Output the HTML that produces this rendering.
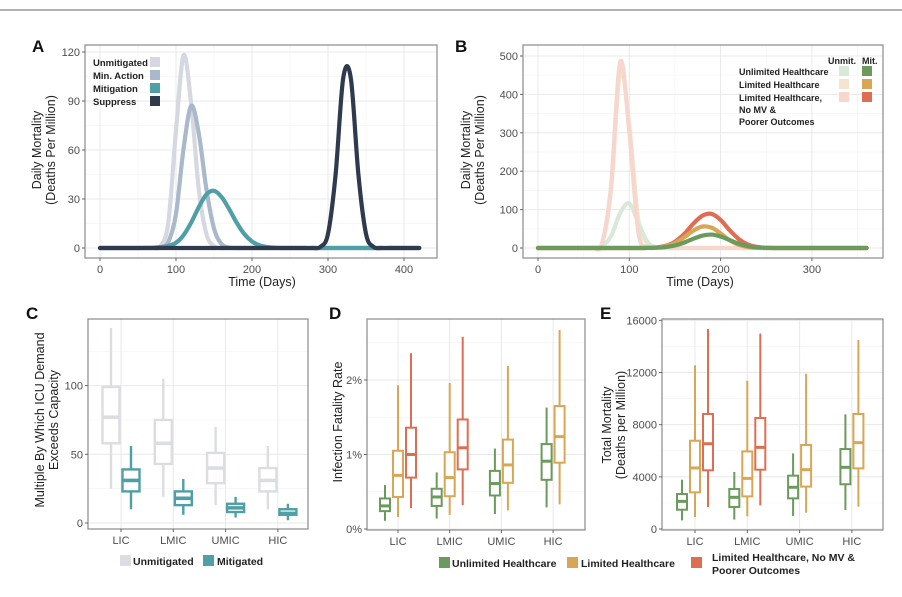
<!DOCTYPE html>
<html><head><meta charset="utf-8"><style>
body{margin:0;background:#fff;}
svg{display:block;font-family:"Liberation Sans",sans-serif;}
.tk{font-size:11px;fill:#4d4d4d;}
.ttl{font-size:12.5px;fill:#222;}
.lg{font-size:10px;font-weight:bold;fill:#222;}
.lga{font-size:9.5px;font-weight:bold;fill:#222;}
.lgb{font-size:9px;font-weight:bold;fill:#222;}
.pl{font-family:"Liberation Sans Narrow","Liberation Sans",sans-serif;font-weight:bold;font-size:17px;fill:#111;}
</style></head><body>
<svg id="fig" width="902" height="597" viewBox="0 0 902 597">
<line x1="0" y1="10" x2="902" y2="10" stroke="#9a9a9a" stroke-width="1.5"/>
<text class="pl" x="32" y="52">A</text>
<text class="pl" x="455" y="52">B</text>
<text class="pl" x="26" y="319">C</text>
<text class="pl" x="329" y="319">D</text>
<text class="pl" x="600" y="319">E</text>
<g id="gA"></g>
<g id="gB"></g>
<g id="gC"></g>
<g id="gD"></g>
<g id="gE"></g>
<text class="ttl" text-anchor="middle" transform="translate(41,150) rotate(-90)"><tspan x="0" dy="0">Daily Mortality</tspan><tspan x="0" dy="14">(Deaths Per Million)</tspan></text>
<text class="ttl" x="262" y="286" text-anchor="middle">Time (Days)</text>
<text class="ttl" text-anchor="middle" transform="translate(470,150) rotate(-90)"><tspan x="0" dy="0">Daily Mortality</tspan><tspan x="0" dy="14">(Deaths Per Million)</tspan></text>
<text class="ttl" x="700" y="286" text-anchor="middle">Time (Days)</text>
<text class="ttl" text-anchor="middle" transform="translate(44,420) rotate(-90)"><tspan x="0" dy="0">Multiple By Which ICU Demand</tspan><tspan x="0" dy="14">Exceeds Capacity</tspan></text>
<text class="ttl" text-anchor="middle" transform="translate(342,422) rotate(-90)">Infection Fatality Rate</text>
<text class="ttl" text-anchor="middle" transform="translate(611,425) rotate(-90)"><tspan x="0" dy="0">Total Mortality</tspan><tspan x="0" dy="14">(Deaths per Million)</tspan></text>
<g>
<text class="lga" x="93" y="66">Unmitigated</text><rect x="150" y="57" width="10" height="10" fill="#d5d8e0"/>
<text class="lga" x="93" y="79">Min. Action</text><rect x="150" y="70" width="10" height="10" fill="#a9b8cb"/>
<text class="lga" x="93" y="92">Mitigation</text><rect x="150" y="83" width="10" height="10" fill="#4f9fa6"/>
<text class="lga" x="93" y="105">Suppress</text><rect x="150" y="96" width="10" height="10" fill="#2f3a4f"/>
</g>
<g>
<text class="lgb" x="828" y="64">Unmit.</text><text class="lgb" x="862" y="64">Mit.</text>
<text class="lgb" x="739" y="75">Unlimited Healthcare</text><rect x="839" y="66" width="10" height="10" fill="#dae8d8"/><rect x="862" y="66" width="10" height="10" fill="#6a9b5c"/>
<text class="lgb" x="739" y="88">Limited Healthcare</text><rect x="839" y="79" width="10" height="10" fill="#f5e4cf"/><rect x="862" y="79" width="10" height="10" fill="#d9a655"/>
<text class="lgb" x="739" y="101">Limited Healthcare,</text><rect x="839" y="92" width="10" height="10" fill="#f6d6cd"/><rect x="862" y="92" width="10" height="10" fill="#de6e53"/>
<text class="lgb" x="739" y="113">No MV &amp;</text>
<text class="lgb" x="739" y="125">Poorer Outcomes</text>
</g>
<g>
<rect x="120" y="555" width="11" height="11" fill="#dcdde3"/><text class="lg" x="133" y="565" style="font-size:10.5px">Unmitigated</text>
<rect x="203" y="555" width="11" height="11" fill="#4f9fa6"/><text class="lg" x="217" y="565" style="font-size:10.5px">Mitigated</text>
</g>
<g>
<rect x="439" y="557" width="11" height="11" fill="#6a9b5c"/><text class="lg" x="452" y="567" style="font-size:10.5px">Unlimited Healthcare</text>
<rect x="567" y="557" width="11" height="11" fill="#d9a655"/><text class="lg" x="581" y="567" style="font-size:10.5px">Limited Healthcare</text>
<rect x="691" y="557" width="11" height="11" fill="#de6e53"/><text class="lg" x="712" y="561" style="font-size:10.5px">Limited Healthcare, No MV &amp;</text><text class="lg" x="712" y="574" style="font-size:10.5px">Poorer Outcomes</text>
</g>
</svg>
<script>
const daysA = [0,10,20,30,40,50,60,70,80,90,100,110,120,130,140,150,160,170,180,190,200,210,220,230,240,250,260,270,280,290,300,310,320,330,340,350,360,370,380,390,400,410,420];
const aUnmit =   [0,0,0,0,0,0,0,0.1,1.3,16,72,118,88,36,8.6,1.1,0,0,0,0,0,0,0,0,0,0,0,0,0,0,0,0,0,0,0,0,0,0,0,0,0,0,0];
const aMinAct =  [0,0,0,0,0,0,0,0,0.3,3.8,21,61,87,70,36,12,2.4,0.3,0,0,0,0,0,0,0,0,0,0,0,0,0,0,0,0,0,0,0,0,0,0,0,0,0];
const aMitig =   [0,0,0,0,0,0,0.1,0.2,0.6,1.3,3.2,7.9,15.6,25,32.8,35,31.2,23.8,15.4,8.5,4,1.6,0.6,0.2,0,0,0,0,0,0,0,0,0,0,0,0,0,0,0,0,0,0,0];
const aSupp =    [0,0,0,0,0,0,0,0,0,0,0,0,0,0,0,0,0,0,0,0,0,0,0,0,0,0,0,0,0,0.7,8.7,45,104,104,45,8.7,0.7,0,0,0,0,0,0];
const aYTicks = [0,30,60,90,120];
const aXTicks = [0,100,200,300,400];
const daysB = [0,10,20,30,40,50,60,70,80,90,100,110,120,130,140,150,160,170,180,190,200,210,220,230,240,250,260,270,280,290,300,310,320,330,340,350,360];
const bUnmitUnl = [0,0,0,0,0,0,0.3,4.6,31,91,116,65,16,1.7,0,0,0,0,0,0,0,0,0,0,0,0,0,0,0,0,0,0,0,0,0,0,0];
const bUnmitLim = [0,0,0,0,0,0,0.5,10,150,460,320,70,12,2,0,0,0,0,0,0,0,0,0,0,0,0,0,0,0,0,0,0,0,0,0,0,0];
const bUnmitNoMV= [0,0,0,0,0,0,0.5,11,162,485,303,40,3,0,0,0,0,0,0,0,0,0,0,0,0,0,0,0,0,0,0,0,0,0,0,0,0];
const bMitNoMV  = [0,0,0,0,0,0,0,0,0,0,0,0,0.3,1.5,5.7,16.3,36,63,84,89,73,46,23,9,2.7,0.7,0,0,0,0,0,0,0,0,0,0,0];
const bMitLim   = [0,0,0,0,0,0,0,0,0,0,0,0,0.3,1,4.5,13,27.5,45,56,53,38,20,8.4,2.6,0.6,0,0,0,0,0,0,0,0,0,0,0,0];
const bMitUnl   = [0,0,0,0,0,0,0,0,0,0,0,0,0.2,0.8,2.5,6.6,14,24,32,35,30,20.6,11,4.8,1.6,0.5,0,0,0,0,0,0,0,0,0,0,0];
const bYTicks = [0,100,200,300,400,500];
const bXTicks = [0,100,200,300];
const cCats = ["LIC","LMIC","UMIC","HIC"];
const cUnmit = [[25,58,77,99,142],[19,43,58,75,105],[13,29,40,51,70],[10,23,31,40,56]];
const cMitig = [[10,23,31,39,56],[6,13,18,23,32],[4,8,11,14,19],[2,6,7,10,14]];
const cYTicks = [0,50,100];
const dCats = ["LIC","LMIC","UMIC","HIC"];
const dUnl = [[0.11,0.24,0.31,0.41,0.59],[0.14,0.31,0.43,0.54,0.76],[0.2,0.45,0.61,0.78,1.08],[0.29,0.66,0.91,1.14,1.63]];
const dLim = [[0.16,0.43,0.72,1.05,1.93],[0.19,0.44,0.69,1.03,1.96],[0.25,0.62,0.86,1.2,2.19],[0.33,0.89,1.24,1.65,2.67]];
const dNoMV = [[0.28,0.69,1.0,1.36,2.36],[0.32,0.8,1.09,1.47,2.58],null,null];
const dYTicks = [0,1,2];
const eCats = ["LIC","LMIC","UMIC","HIC"];
const eUnl = [[660,1480,2120,2680,3780],[720,1690,2430,3070,4370],[1000,2350,3200,4090,5800],[1460,3430,4730,6130,8790]];
const eLim = [[920,2810,4680,6770,12550],[970,2500,3880,5950,11370],[1250,3250,4550,6440,11910],[1710,4650,6620,8820,14490]];
const eNoMV = [[1690,4500,6540,8820,15340],[1810,4550,6260,8510,14980],null,null];
const eYTicks = [0,4000,8000,12000,16000];

const NS = "http://www.w3.org/2000/svg";
function mk(parent, tag, attrs){ const e=document.createElementNS(NS,tag); for(const k in attrs) e.setAttribute(k,attrs[k]); parent.appendChild(e); return e; }
function frame(g, x0,y0,x1,y1){
  const r = mk(g,"rect",{x:x0,y:y0,width:x1-x0,height:y1-y0,fill:"#fff",stroke:"none"});
  
  
}
function border(g,x0,y0,x1,y1){
  const r = mk(g,"rect",{x:x0,y:y0,width:x1-x0,height:y1-y0,fill:"none",stroke:"#8a8a8a","stroke-width":1.2});
  
  
}
function hgrid(g,y,x0,x1,minor){
  const l = mk(g,"line",{x1:x0,x2:x1,y1:y,y2:y,stroke:minor?"#f4f4f4":"#e8e8e8","stroke-width":minor?0.7:1});
  
  
}
function vgrid(g,x,y0,y1,minor){
  const l = mk(g,"line",{x1:x,x2:x,y1:y0,y2:y1,stroke:minor?"#f4f4f4":"#e8e8e8","stroke-width":minor?0.7:1});
  
  
}
function ytick(g,x0,y,label){
  const l = mk(g,"line",{x1:x0-3,x2:x0,y1:y,y2:y,stroke:"#666","stroke-width":1});
  
  
  const t = mk(g,"text",{x:x0-5,y:y+4,"text-anchor":"end",class:"tk"}); t.textContent=label;
  
  
}
function xtick(g,x,y1,label){
  const l = mk(g,"line",{x1:x,x2:x,y1:y1,y2:y1+3,stroke:"#666","stroke-width":1});
  
  
  const t = mk(g,"text",{x:x,y:y1+15,"text-anchor":"middle",class:"tk"}); t.textContent=label;
  
  
}
function smoothPath(pts){
  let d = "M"+pts[0][0].toFixed(2)+","+pts[0][1].toFixed(2);
  for(let i=0;i<pts.length-1;i++){
    const p0=pts[Math.max(0,i-1)],p1=pts[i],p2=pts[i+1],p3=pts[Math.min(pts.length-1,i+2)];
    const c1=[p1[0]+(p2[0]-p0[0])/6,p1[1]+(p2[1]-p0[1])/6];
    const c2=[p2[0]-(p3[0]-p1[0])/6,p2[1]-(p3[1]-p1[1])/6];
    d+=" C"+c1[0].toFixed(2)+","+c1[1].toFixed(2)+" "+c2[0].toFixed(2)+","+c2[1].toFixed(2)+" "+p2[0].toFixed(2)+","+p2[1].toFixed(2);
  }
  return d;
}
function line(g, days, vals, xs, ys, color, name, baseY){
  const pts = days.map((d,i)=>[xs(d), Math.min(ys(vals[i]), baseY)]);
  const p = mk(g,"path",{d:smoothPath(pts),fill:"none",stroke:color,"stroke-width":4.2,"stroke-linecap":"round","stroke-linejoin":"round"});
  
  
}
function box(g, cx, w, s, ys, color, name, lw){
  const [mn,q1,md,q3,mx]=s.map(ys);
  const wl = mk(g,"line",{x1:cx,x2:cx,y1:mx,y2:q3,stroke:color,"stroke-width":lw});
  
  
  const wl2 = mk(g,"line",{x1:cx,x2:cx,y1:q1,y2:mn,stroke:color,"stroke-width":lw});
  
  
  const r = mk(g,"rect",{x:cx-w/2,y:q3,width:w,height:q1-q3,fill:"#fff",stroke:color,"stroke-width":lw});
  
  
  const m = mk(g,"line",{x1:cx-w/2,x2:cx+w/2,y1:md,y2:md,stroke:color,"stroke-width":lw*1.5});
  
  
}
(function(){
  const g=document.getElementById("gA");
  const x0=85,x1=437,y0=45,y1=258;
  const xs=d=>100+d*0.76, ys=v=>248-v*196/120;
  frame(g,x0,y0,x1,y1);
  for(let v=15;v<124;v+=30) hgrid(g,ys(v),x0,x1,true);
  for(let d=50;d<430;d+=100) vgrid(g,xs(d),y0,y1,true);
  aYTicks.forEach(v=>hgrid(g,ys(v),x0,x1,false));
  aXTicks.forEach(d=>vgrid(g,xs(d),y0,y1,false));
  line(g,daysA,aUnmit,xs,ys,"#d5d8e0","unmitigated-line",248);
  line(g,daysA,aMinAct,xs,ys,"#a9b8cb","min-action-line",248);
  line(g,daysA,aMitig,xs,ys,"#4f9fa6","mitigation-line",248);
  line(g,daysA,aSupp,xs,ys,"#2f3a4f","suppress-line",248);
  border(g,x0,y0,x1,y1);
  aYTicks.forEach(v=>ytick(g,x0,ys(v),String(v)));
  aXTicks.forEach(d=>xtick(g,xs(d),y1,String(d)));
})();
(function(){
  const g=document.getElementById("gB");
  const x0=523,x1=883,y0=45,y1=258;
  const xs=d=>538+d*0.913, ys=v=>248-v*0.384;
  frame(g,x0,y0,x1,y1);
  for(let v=50;v<520;v+=100) hgrid(g,ys(v),x0,x1,true);
  for(let d=50;d<370;d+=100) vgrid(g,xs(d),y0,y1,true);
  bYTicks.forEach(v=>hgrid(g,ys(v),x0,x1,false));
  bXTicks.forEach(d=>vgrid(g,xs(d),y0,y1,false));
  line(g,daysB,bUnmitLim,xs,ys,"#f5e4cf","unmit-limited-line",248);
  line(g,daysB,bUnmitUnl,xs,ys,"#dae8d8","unmit-unlimited-line",248);
  line(g,daysB,bUnmitNoMV,xs,ys,"#f6d6cd","unmit-nomv-line",248);
  line(g,daysB,bMitNoMV,xs,ys,"#de6e53","mit-nomv-line",248);
  line(g,daysB,bMitLim,xs,ys,"#d9a655","mit-limited-line",248);
  line(g,daysB,bMitUnl,xs,ys,"#6a9b5c","mit-unlimited-line",248);
  border(g,x0,y0,x1,y1);
  bYTicks.forEach(v=>ytick(g,x0,ys(v),String(v)));
  bXTicks.forEach(d=>xtick(g,xs(d),y1,String(d)));
})();
(function(){
  const g=document.getElementById("gC");
  const x0=88,x1=308,y0=319,y1=529;
  const xs=i=>121+i*52.3, ys=v=>523-v*1.374;
  frame(g,x0,y0,x1,y1);
  [25,75,125].forEach(v=>hgrid(g,ys(v),x0,x1,true));
  cYTicks.forEach(v=>hgrid(g,ys(v),x0,x1,false));
  cCats.forEach((c,i)=>vgrid(g,xs(i),y0,y1,false));
  cCats.forEach((c,i)=>{
    box(g,xs(i)-10,17,cUnmit[i],ys,"#dcdde3","c-unmitigated-"+c.toLowerCase(),2.4);
    box(g,xs(i)+10,17,cMitig[i],ys,"#4f9fa6","c-mitigated-"+c.toLowerCase(),2.4);
  });
  border(g,x0,y0,x1,y1);
  cYTicks.forEach(v=>ytick(g,x0,ys(v),String(v)));
  cCats.forEach((c,i)=>xtick(g,xs(i),y1,c));
})();
(function(){
  const g=document.getElementById("gD");
  const x0=367,x1=585,y0=319,y1=530;
  const xs=i=>398+i*51.7, ys=v=>529-v*74.5;
  frame(g,x0,y0,x1,y1);
  [0.5,1.5,2.5].forEach(v=>hgrid(g,ys(v),x0,x1,true));
  dYTicks.forEach(v=>hgrid(g,ys(v),x0,x1,false));
  dCats.forEach((c,i)=>vgrid(g,xs(i),y0,y1,false));
  dCats.forEach((c,i)=>{
    const n=c.toLowerCase();
    if(dNoMV[i]){
      box(g,xs(i)-13,10,dUnl[i],ys,"#6a9b5c","d-unlimited-"+n,2);
      box(g,xs(i),10,dLim[i],ys,"#d9a655","d-limited-"+n,2);
      box(g,xs(i)+13,10,dNoMV[i],ys,"#de6e53","d-nomv-"+n,2);
    } else {
      box(g,xs(i)-6.5,10,dUnl[i],ys,"#6a9b5c","d-unlimited-"+n,2);
      box(g,xs(i)+6.5,10,dLim[i],ys,"#d9a655","d-limited-"+n,2);
    }
  });
  border(g,x0,y0,x1,y1);
  dYTicks.forEach(v=>ytick(g,x0,ys(v),v+"%"));
  dCats.forEach((c,i)=>xtick(g,xs(i),y1,c));
})();
(function(){
  const g=document.getElementById("gE");
  const x0=662,x1=883,y0=319,y1=530;
  const xs=i=>695+i*52.3, ys=v=>529-v*0.01304;
  frame(g,x0,y0,x1,y1);
  [2000,6000,10000,14000].forEach(v=>hgrid(g,ys(v),x0,x1,true));
  eYTicks.forEach(v=>hgrid(g,ys(v),x0,x1,false));
  eCats.forEach((c,i)=>vgrid(g,xs(i),y0,y1,false));
  eCats.forEach((c,i)=>{
    const n=c.toLowerCase();
    if(eNoMV[i]){
      box(g,xs(i)-13,10,eUnl[i],ys,"#6a9b5c","e-unlimited-"+n,2);
      box(g,xs(i),10,eLim[i],ys,"#d9a655","e-limited-"+n,2);
      box(g,xs(i)+13,10,eNoMV[i],ys,"#de6e53","e-nomv-"+n,2);
    } else {
      box(g,xs(i)-6.5,10,eUnl[i],ys,"#6a9b5c","e-unlimited-"+n,2);
      box(g,xs(i)+6.5,10,eLim[i],ys,"#d9a655","e-limited-"+n,2);
    }
  });
  border(g,x0,y0,x1,y1);
  eYTicks.forEach(v=>ytick(g,x0,ys(v),String(v)));
  eCats.forEach((c,i)=>xtick(g,xs(i),y1,c));
})();
</script>
</body></html>
